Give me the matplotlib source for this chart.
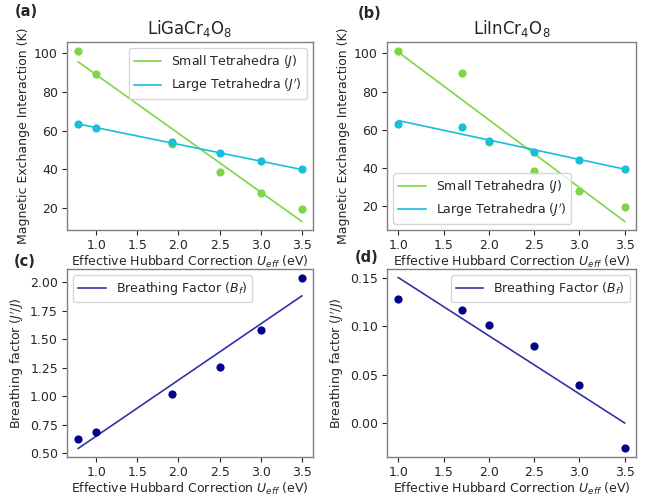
import numpy as np
import matplotlib
matplotlib.use("Agg")
import matplotlib.pyplot as plt

# Data
u_ga = [0.78, 1.0, 1.925, 2.5, 3.0, 3.5]
j_small_ga = [101.5, 89.5, 53.0, 38.5, 27.5, 19.5]
j_large_ga = [63.3, 61.5, 53.8, 48.3, 44.0, 39.8]
bf_ga = [0.62, 0.68, 1.015, 1.255, 1.58, 2.04]

u_in = [1.0, 1.7, 2.0, 2.5, 3.0, 3.5]
j_small_in = [101.5, 90.0, 53.5, 38.7, 28.0, 19.7]
j_large_in = [63.2, 61.5, 54.0, 48.5, 44.2, 39.7]
bf_in = [0.128, 0.117, 0.101, 0.080, 0.040, -0.026]

titles = [r'LiGaCr$_4$O$_8$', r'LiInCr$_4$O$_8$']
panel_labels = ['(a)', '(b)', '(c)', '(d)']

GREEN = '#7dd645'
CYAN = '#17bfd8'
NAVY = '#00008b'
TXT = '#262626'

plt.rcParams.update({
    'font.family': 'DejaVu Sans',
    'font.size': 9,
    'text.color': TXT,
    'axes.labelcolor': TXT,
    'xtick.color': TXT,
    'ytick.color': TXT,
    'axes.edgecolor': '#808080',
    'axes.linewidth': 1.0,
    'legend.edgecolor': '#cccccc',
})

W, H = 667, 497
fig = plt.figure(figsize=(W / 100, H / 100), dpi=100)

def px_axes(left, top, right, bottom):
    return fig.add_axes([left / W, (H - bottom) / H, (right - left) / W, (bottom - top) / H])

ax_a = px_axes(67, 42, 313, 230)
ax_b = px_axes(387, 42, 636, 230)
ax_c = px_axes(67, 269, 313, 457)
ax_d = px_axes(387, 269, 636, 457)

xlabel = r'Effective Hubbard Correction $U_{eff}$ (eV)'

def fit_line(ax, x, y, color, label, alpha=1.0):
    x = np.asarray(x)
    p = np.polyfit(x, y, 1)
    ax.plot(x, np.polyval(p, x), color=color, lw=1.2, label=label, alpha=alpha)

def style(ax):
    ax.tick_params(labelsize=9, length=3.5, width=0.8, pad=3, colors=TXT)
    for s in ax.spines.values():
        s.set_color('#808080')

for ax, u, js, jl, title, loc in [
    (ax_a, u_ga, j_small_ga, j_large_ga, titles[0], 'upper right'),
    (ax_b, u_in, j_small_in, j_large_in, titles[1], 'lower left'),
]:
    fit_line(ax, u, js, GREEN, r'Small Tetrahedra ($J$)')
    fit_line(ax, u, jl, CYAN, r'Large Tetrahedra ($J^{\prime}$)')
    ax.scatter(u, js, color=GREEN, s=24, zorder=3)
    ax.scatter(u, jl, color=CYAN, s=24, zorder=3)
    ax.set_title(title, fontsize=12, pad=6)
    ax.set_xlabel(xlabel, fontsize=9, labelpad=1)
    ax.set_ylabel('Magnetic Exchange Interaction (K)', fontsize=9, labelpad=3)
    ax.set_yticks([20, 40, 60, 80, 100])
    ax.legend(loc=loc, fontsize=9, handlelength=2.2)
    style(ax)

for ax, u, bf, loc in [(ax_c, u_ga, bf_ga, 'upper left'), (ax_d, u_in, bf_in, 'upper right')]:
    fit_line(ax, u, bf, NAVY, r'Breathing Factor ($B_f$)', alpha=0.8)
    ax.scatter(u, bf, color=NAVY, s=24, zorder=3)
    ax.set_xlabel(xlabel, fontsize=9, labelpad=1)
    ax.set_ylabel(r'Breathing factor ($J^{\prime}/J$)', fontsize=9, labelpad=3)
    ax.legend(loc=loc, fontsize=9, handlelength=2.2)
    style(ax)

ax_c.set_yticks([0.5, 0.75, 1.0, 1.25, 1.5, 1.75, 2.0])
ax_c.yaxis.set_major_formatter(matplotlib.ticker.FormatStrFormatter('%.2f'))
ax_d.set_yticks([0.0, 0.05, 0.10, 0.15])
ax_d.yaxis.set_major_formatter(matplotlib.ticker.FormatStrFormatter('%.2f'))

for lbl, (x, y) in zip(panel_labels, [(26, 12), (370, 13), (25, 261), (367, 258)]):
    fig.text(x / W, 1 - y / H, lbl, fontsize=10.5, fontweight='bold', ha='center', va='center')

fig.savefig('out.png', dpi=100)
